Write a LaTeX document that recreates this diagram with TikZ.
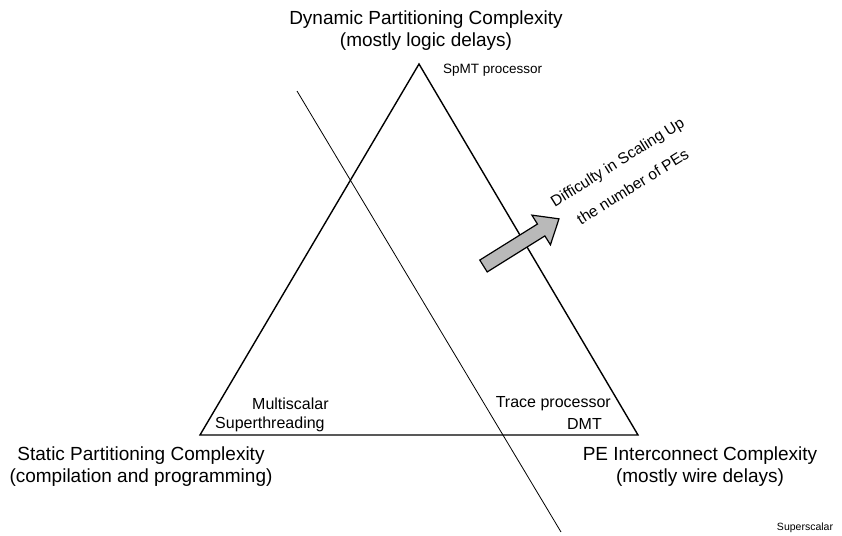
\documentclass[tikz,border=0pt]{standalone}
\usepackage{fontspec}
\setmainfont{Liberation Sans}

\begin{document}
\begin{tikzpicture}[x=1pt, y=-1pt,
  ax/.style={align=center, font=\fontsize{19}{22}\selectfont, inner sep=0pt},
  lb/.style={font=\fontsize{16}{18}\selectfont, inner sep=0pt},
  sm/.style={font=\fontsize{13.5}{15}\selectfont, inner sep=0pt},
  tri/.style={line width=1.4pt, line join=miter},
  cut/.style={line width=0.8pt}]
\useasboundingbox (0,0) rectangle (842,535);
% triangle corners
\coordinate (top) at (419,64);
\coordinate (bl) at (200,435);
\coordinate (br) at (638,435);
\draw[tri] (top) -- (bl) -- (br) -- cycle;
% corner titles
\node[ax] (dyn) at (426,31) {Dynamic Partitioning Complexity\\(mostly logic delays)};
\node[ax] (stat) at (141,467) {Static Partitioning Complexity\\(compilation and programming)};
\node[ax] (pe) at (700,467) {PE Interconnect Complexity\\(mostly wire delays)};
% machines
\node[sm, anchor=west] (spmt) at (443,70) {SpMT processor};
\node[lb, anchor=west] (msc) at (252,404) {Multiscalar};
\node[lb, anchor=west] (sth) at (215,424) {Superthreading};
\node[lb, anchor=east] (trace) at (611,404) {Trace processor};
\node[lb, anchor=east] (dmt) at (602,424) {DMT};
\node[font=\fontsize{10.5}{12}\selectfont, inner sep=0pt] (sup) at (805,528) {Superscalar};
% dividing line
\coordinate (c1) at (297,91);
\coordinate (c2) at (561,532);
\draw[cut] (c1) -- (c2);
% scaling arrow
\begin{scope}[shift={(483.5,266)}, rotate=32]
  \draw[line width=1.2pt, line join=miter, fill=gray!55]
    (0,-7) -- (68,-7) -- (68,-17.5) -- (89,0) -- (68,17.5) -- (68,7) -- (0,7) -- cycle;
\end{scope}
\node[align=center, rotate=32, font=\fontsize{15.5}{29}\selectfont, inner sep=0pt] (diff) at (625,174)
  {Difficulty in Scaling Up\\the number of PEs};
\end{tikzpicture}
\end{document}
